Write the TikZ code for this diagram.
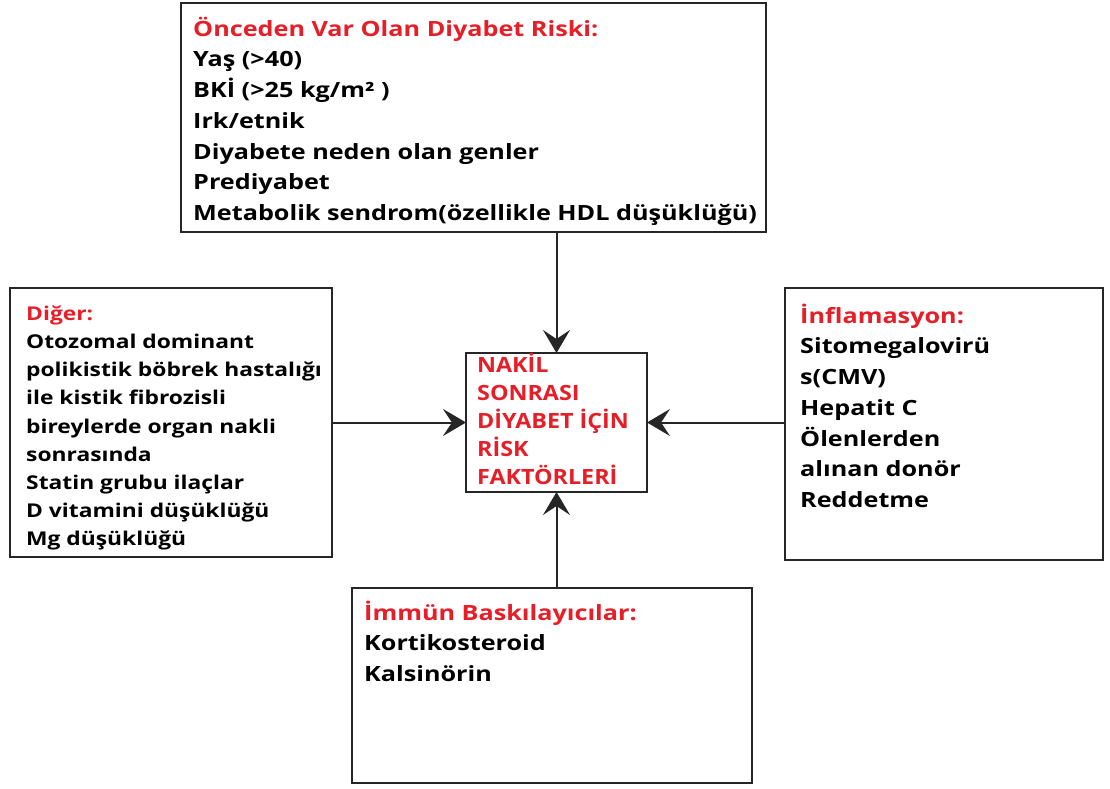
\documentclass[tikz,border=0pt]{standalone}
\usepackage{fontspec}
\setmainfont[FakeStretch=1.2]{Open Sans}
\newfontfamily\ctrfont[FakeStretch=1.11]{Open Sans}
\usetikzlibrary{arrows.meta}
\definecolor{tred}{RGB}{230,30,40}
\definecolor{lgray}{RGB}{38,38,38}
\newcommand{\firststrut}{\rule{0pt}{22pt}}
\begin{document}
\begin{tikzpicture}[x=1pt,y=-1pt,
  box/.style={draw=lgray,line width=2.3pt,inner sep=0pt,outer sep=0pt},
  txt/.style={anchor=north west,align=left,inner sep=0pt,font=\bfseries\fontsize{21}{30.7}\selectfont},
  txts/.style={txt,font=\bfseries\fontsize{19}{28.2}\selectfont},
  txtc/.style={txt,text=tred,font=\ctrfont\bfseries\fontsize{21}{28}\selectfont},
  arr/.style={draw=lgray,line width=2pt,-{Stealth[length=23pt,width=27pt,inset=9pt]}}]
\useasboundingbox[fill=white] (0,0) rectangle (1110,789);
% boxes
\node[box,minimum width=585pt,minimum height=229pt] (top) at (473.5,117.5) {};
\node[box,minimum width=322pt,minimum height=269pt] (lft) at (171,422.5) {};
\node[box,minimum width=318pt,minimum height=272pt] (rgt) at (944,424) {};
\node[box,minimum width=181pt,minimum height=139pt] (ctr) at (556.5,422.5) {};
\node[box,minimum width=400pt,minimum height=195pt] (bot) at (552,685.5) {};
% texts
\node[txt] (toptxt) at (193,14) {\firststrut\textcolor{tred}{Önceden Var Olan Diyabet Riski:}\\
Yaş (>40)\\
BKİ (>25 kg/m² )\\
Irk/etnik\\
Diyabete neden olan genler\\
Prediyabet\\
Metabolik sendrom(özellikle HDL düşüklüğü)};
\node[txts] (lfttxt) at (26,298) {\firststrut\textcolor{tred}{Diğer:}\\
Otozomal dominant\\
polikistik böbrek hastalığı\\
ile kistik fibrozisli\\
bireylerde organ nakli\\
sonrasında\\
Statin grubu ilaçlar\\
D vitamini düşüklüğü\\
Mg düşüklüğü};
\node[txt] (rgttxt) at (800,301) {\firststrut\textcolor{tred}{İnflamasyon:}\\
Sitomegalovirü\\
s(CMV)\\
Hepatit C\\
Ölenlerden\\
alınan donör\\
Reddetme};
\node[txtc] (ctrtxt) at (477,350) {\firststrut NAKİL\\
SONRASI\\
DİYABET İÇİN\\
RİSK\\
FAKTÖRLERİ};
\node[txt] (bottxt) at (364,598) {\firststrut\textcolor{tred}{İmmün Baskılayıcılar:}\\
Kortikosteroid\\
Kalsinörin};
% arrows
\draw[arr] (top.south -| ctr.north) -- (ctr.north);
\draw[arr] (lft.east |- ctr.west) -- (ctr.west);
\draw[arr] (rgt.west |- ctr.east) -- (ctr.east);
\draw[arr] (bot.north -| ctr.south) -- (ctr.south);
\end{tikzpicture}
\end{document}
